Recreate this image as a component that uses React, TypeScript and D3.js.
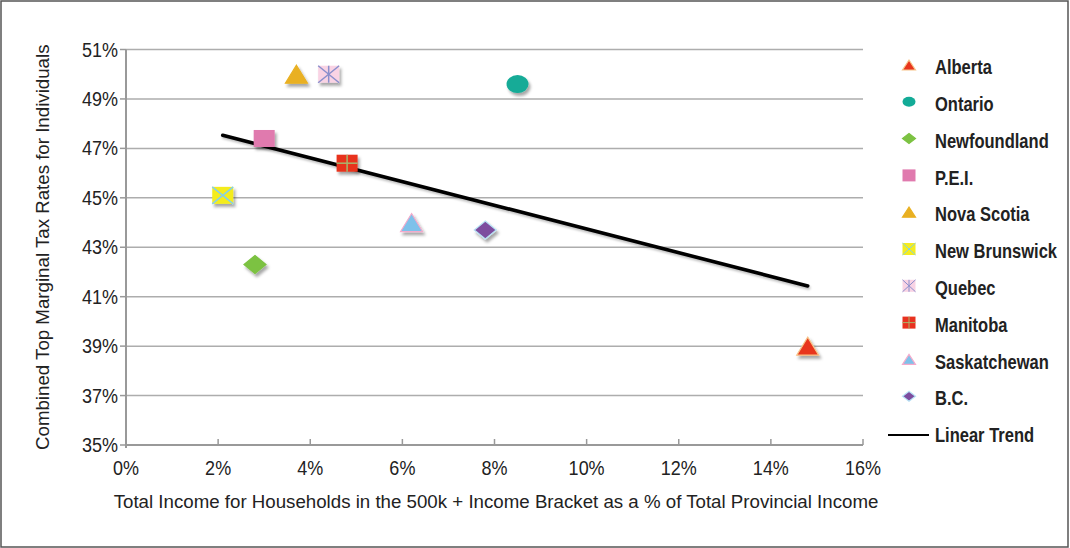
import * as d3 from "d3";

const provinces = [
  "Alberta",
  "Ontario",
  "Newfoundland",
  "P.E.I.",
  "Nova Scotia",
  "New Brunswick",
  "Quebec",
  "Manitoba",
  "Saskatchewan",
  "B.C.",
];
// % of provincial income earned by the 500k+ bracket
const incomeShare = [14.8, 8.5, 2.8, 3.0, 3.7, 2.1, 4.4, 4.8, 6.2, 7.8];
// combined top marginal tax rate, %
const topRate = [39.0, 49.6, 42.3, 47.4, 50.0, 45.1, 50.0, 46.4, 44.0, 43.7];

const xTicks = [0, 2, 4, 6, 8, 10, 12, 14, 16];
const yTicks = [35, 37, 39, 41, 43, 45, 47, 49, 51];

type MarkerKind = "triangle" | "circle" | "diamond" | "square" | "squareX" | "squareStar" | "squarePlus";
type MarkerStyle = { kind: MarkerKind; fill: string; stroke: string; mark?: string };

const markerStyles: MarkerStyle[] = [
  { kind: "triangle", fill: "#e8351d", stroke: "#f7c48a" },
  { kind: "circle", fill: "#13ab97", stroke: "#13ab97" },
  { kind: "diamond", fill: "#7cc242", stroke: "#7cc242" },
  { kind: "square", fill: "#e07aae", stroke: "#e07aae" },
  { kind: "triangle", fill: "#e9b021", stroke: "#e9b021" },
  { kind: "squareX", fill: "#f4ec1f", stroke: "#f4ec1f", mark: "#84d0ea" },
  { kind: "squareStar", fill: "#f9d3e4", stroke: "#f9d3e4", mark: "#8a8fcc" },
  { kind: "squarePlus", fill: "#e8321f", stroke: "#e8321f", mark: "#a8b46c" },
  { kind: "triangle", fill: "#7ec1ea", stroke: "#f4aacb" },
  { kind: "diamond", fill: "#7d4d9f", stroke: "#b9e4f6" },
];

const FONT = "'Liberation Sans', Arial, Helvetica, sans-serif";

const Marker = ({ s, cx, cy, w, h }: { s: MarkerStyle; cx: number; cy: number; w: number; h: number }) => {
  const hw = w / 2;
  const hh = h / 2;
  if (s.kind === "triangle") {
    const pts = [
      [cx, cy - hh],
      [cx + hw, cy + hh],
      [cx - hw, cy + hh],
    ];
    return <polygon points={pts.map((p) => p.join(",")).join(" ")} fill={s.fill} stroke={s.stroke} strokeWidth={1.2} />;
  }
  if (s.kind === "circle") {
    return <ellipse cx={cx} cy={cy} rx={hw} ry={hh} fill={s.fill} />;
  }
  if (s.kind === "diamond") {
    const pts = [
      [cx, cy - hh],
      [cx + hw, cy],
      [cx, cy + hh],
      [cx - hw, cy],
    ];
    return <polygon points={pts.map((p) => p.join(",")).join(" ")} fill={s.fill} stroke={s.stroke} strokeWidth={1.2} />;
  }
  const x0 = cx - hw;
  const y0 = cy - hh;
  const lw = Math.max(1, w / 14);
  return (
    <g>
      <rect x={x0} y={y0} width={w} height={h} fill={s.fill} />
      {(s.kind === "squareX" || s.kind === "squareStar") && (
        <g stroke={s.mark} strokeWidth={lw}>
          <line x1={x0} y1={y0} x2={x0 + w} y2={y0 + h} />
          <line x1={x0} y1={y0 + h} x2={x0 + w} y2={y0} />
        </g>
      )}
      {s.kind === "squareStar" && <line x1={cx} y1={y0} x2={cx} y2={y0 + h} stroke={s.mark} strokeWidth={lw} />}
      {s.kind === "squarePlus" && (
        <g stroke={s.mark} strokeWidth={lw}>
          <line x1={x0} y1={cy} x2={x0 + w} y2={cy} />
          <line x1={cx} y1={y0} x2={cx} y2={y0 + h} />
        </g>
      )}
    </g>
  );
};

export default function App() {
  const width = 1070;
  const height = 548;
  const plot = { left: 126, right: 863, top: 49.5, bottom: 445 };

  const x = d3.scaleLinear().domain([0, 16]).range([plot.left, plot.right]);
  const y = d3.scaleLinear().domain([35, 51]).range([plot.bottom, plot.top]);

  // least-squares trend through the points
  const mx = d3.mean(incomeShare) ?? 0;
  const my = d3.mean(topRate) ?? 0;
  const sxy = d3.sum(incomeShare, (v, i) => (v - mx) * (topRate[i] - my));
  const sxx = d3.sum(incomeShare, (v) => (v - mx) * (v - mx));
  const slope = sxy / sxx;
  const [xMin, xMax] = d3.extent(incomeShare) as [number, number];
  const trend = [xMin, xMax].map((v) => [x(v), y(my + slope * (v - mx))] as [number, number]);
  const trendPath = d3.line()(trend) ?? "";

  const legendItems = [...provinces, "Linear Trend"];
  const legendY = (i: number) => 67 + i * 36.8;

  return (
    <svg
      width={width}
      height={height}
      style={{ position: "absolute", left: 0, top: 0, background: "#fff" }}
      fontFamily={FONT}
    >
      <defs>
        <filter id="shadow" x="-50%" y="-50%" width="200%" height="200%">
          <feDropShadow dx={2} dy={3} stdDeviation={1.8} floodColor="#000" floodOpacity={0.35} />
        </filter>
        <filter id="lineShadow" x="-10%" y="-50%" width="120%" height="200%">
          <feDropShadow dx={1} dy={2} stdDeviation={1.2} floodColor="#000" floodOpacity={0.25} />
        </filter>
      </defs>
      <rect x={1} y={1} width={1067} height={546} fill="#fff" stroke="#555" strokeWidth={1.5} />

      {/* gridlines */}
      {yTicks.map((t) => (
        <line key={`g${t}`} x1={plot.left} x2={plot.right} y1={y(t)} y2={y(t)} stroke="#adadad" strokeWidth={1.5} />
      ))}
      {/* y axis */}
      <line x1={plot.left} x2={plot.left} y1={plot.top} y2={plot.bottom + 3} stroke="#999" strokeWidth={2} />
      {yTicks.map((t) => (
        <g key={`y${t}`}>
          <line x1={plot.left - 6} x2={plot.left} y1={y(t)} y2={y(t)} stroke="#999" strokeWidth={1.5} />
          <text
            transform={`translate(${plot.left - 8},${y(t)}) scale(1,1.08)`}
            dy="0.36em"
            textAnchor="end"
            fontSize={18}
            fill="#222"
          >
            {t}%
          </text>
        </g>
      ))}
      {/* x axis */}
      <line x1={plot.left} x2={plot.right} y1={plot.bottom} y2={plot.bottom} stroke="#999" strokeWidth={2} />
      {xTicks.map((t) => (
        <g key={`x${t}`}>
          <line x1={x(t)} x2={x(t)} y1={plot.bottom - 6} y2={plot.bottom} stroke="#999" strokeWidth={1.5} />
          <text transform={`translate(${x(t)},474.5) scale(1,1.08)`} textAnchor="middle" fontSize={18} fill="#222">
            {t}%
          </text>
        </g>
      ))}

      <text x={496} y={508} textAnchor="middle" fontSize={18.7} fill="#222">
        Total Income for Households in the 500k + Income Bracket as a % of Total Provincial Income
      </text>
      <text transform={`translate(49,${(plot.top + plot.bottom) / 2}) rotate(-90)`} textAnchor="middle" fontSize={18.7} fill="#222">
        Combined Top Marginal Tax Rates for Individuals
      </text>

      {/* trend */}
      <path d={trendPath} stroke="#000" strokeWidth={3.6} fill="none" strokeLinecap="round" filter="url(#lineShadow)" />

      {/* points */}
      {provinces.map((p, i) => {
        const s = markerStyles[i];
        const sq = s.kind.startsWith("square");
        return (
          <g key={p} filter="url(#shadow)">
            <Marker s={s} cx={x(incomeShare[i])} cy={y(topRate[i])} w={sq ? 21 : 22} h={sq ? 17 : 18} />
          </g>
        );
      })}

      {/* legend */}
      {legendItems.map((name, i) => {
        const cy = legendY(i);
        return (
          <g key={name}>
            {i < provinces.length ? (
              <Marker s={markerStyles[i]} cx={909} cy={cy - 2} w={13} h={markerStyles[i].kind.startsWith("square") ? 12 : 10} />
            ) : (
              <line x1={888} x2={929} y1={cy} y2={cy} stroke="#000" strokeWidth={2} />
            )}
            <text
              transform={`translate(935,${cy}) scale(0.87,1.05)`}
              dy="0.36em"
              fontWeight="bold"
              fontSize={19}
              fill="#222"
            >
              {name}
            </text>
          </g>
        );
      })}
    </svg>
  );
}
